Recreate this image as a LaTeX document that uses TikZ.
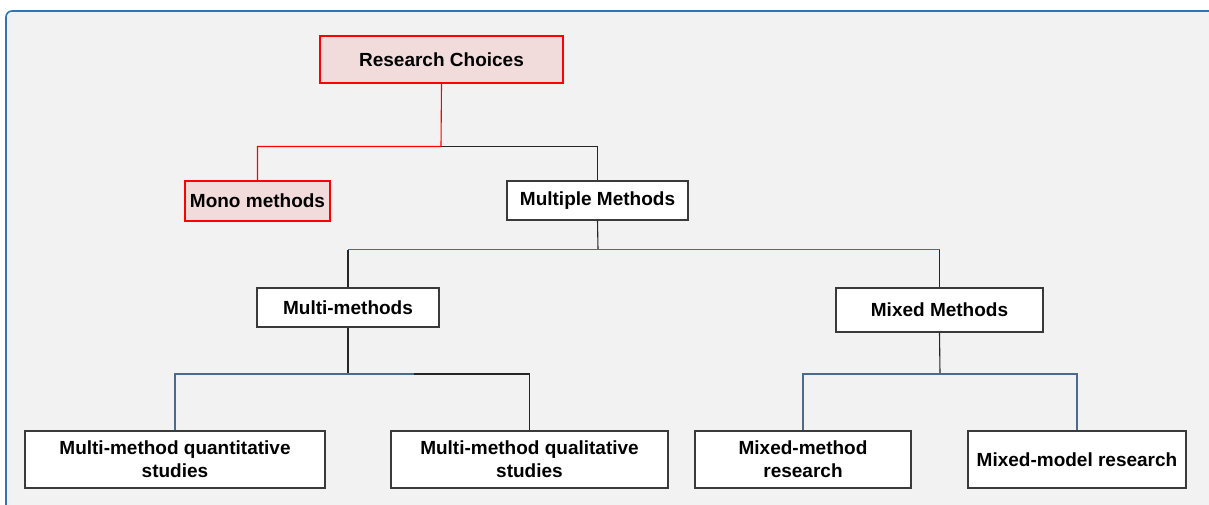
\documentclass[tikz,border=0pt]{standalone}
\usepackage{fontspec}
\setmainfont{Liberation Sans}
\begin{document}
\definecolor{panelbg}{HTML}{F2F2F2}
\definecolor{panelframe}{HTML}{2E75B6}
\definecolor{rootfill}{HTML}{F2DCDB}
\definecolor{rootline}{HTML}{FF0000}
\definecolor{boxline}{HTML}{3A3A3A}
\definecolor{linkblue}{HTML}{4A6A8E}
\begin{tikzpicture}[x=1pt,y=-1pt,
  every node/.style={font=\fontsize{19}{23}\selectfont\bfseries, inner sep=0pt, align=center},
  plainbox/.style={draw=boxline, fill=white, line width=1.2pt},
  redbox/.style={draw=rootline, fill=rootfill, line width=2pt},
  redlink/.style={draw=rootline, line width=1.1pt},
  darklink/.style={draw=black!85, line width=1.1pt},
  bluelink/.style={draw=linkblue, line width=1.1pt}]
  % page and panel
  \useasboundingbox (0,0) rectangle (1209,504);
  \fill[white] (0,0) rectangle (1209,504);
  \draw[panelframe, fill=panelbg, line width=1.6pt, rounded corners=6pt] (6,11) rectangle (1230,530);

  % boxes
  \node[redbox, minimum width=243pt, minimum height=47pt] (rc) at (441.5,59.5) {Research Choices};
  \node[redbox, minimum width=145pt, minimum height=40pt] (mono) at (257.5,201) {Mono methods};
  \node[plainbox, minimum width=181pt, minimum height=39pt] (mult) at (597.5,200.5) {Multiple Methods};
  \node[plainbox, minimum width=182pt, minimum height=39pt] (mm) at (348,307.5) {Multi-methods};
  \node[plainbox, minimum width=207pt, minimum height=44pt] (mx) at (939.5,310) {Mixed Methods};
  \node[plainbox, minimum width=300pt, minimum height=57pt] (q1) at (175,459.5) {Multi-method quantitative\\studies};
  \node[plainbox, minimum width=277pt, minimum height=57pt] (q2) at (529.5,459.5) {Multi-method qualitative\\studies};
  \node[plainbox, minimum width=216pt, minimum height=57pt] (r1) at (803,459.5) {Mixed-method\\research};
  \node[plainbox, minimum width=218pt, minimum height=57pt] (r2) at (1077,459.5) {Mixed-model research};

  % junction points
  \coordinate (j1) at (441,146.5);
  \coordinate (j2) at (598,249.5);
  \coordinate (j3) at (348,374);
  \coordinate (j3s) at (414,374);
  \coordinate (j4) at (940,374);

  % root level
  \draw[redlink] (rc.south) -- (j1) -- (j1 -| mono.north) -- (mono.north);
  \draw[darklink] (j1) -| (mult.north);

  % multiple methods level
  \draw[darklink] (mult.south) -- (j2);
  \draw[bluelink] (j2 -| mm.north) -- (j2 -| mx.north);
  \draw[darklink] (j2 -| mm.north) -- (mm.north);
  \draw[darklink] (j2 -| mx.north) -- (mx.north);

  % multi-methods branch
  \draw[darklink] (mm.south) -- (j3);
  \draw[bluelink] (j3s) -- (j3 -| q1.north) -- (q1.north);
  \draw[darklink] (j3s) -| (q2.north);

  % mixed methods branch
  \draw[darklink] (mx.south) -- (j4);
  \draw[bluelink] (r1.north) -- (j4 -| r1.north) -- (j4 -| r2.north) -- (r2.north);
\end{tikzpicture}
\end{document}
